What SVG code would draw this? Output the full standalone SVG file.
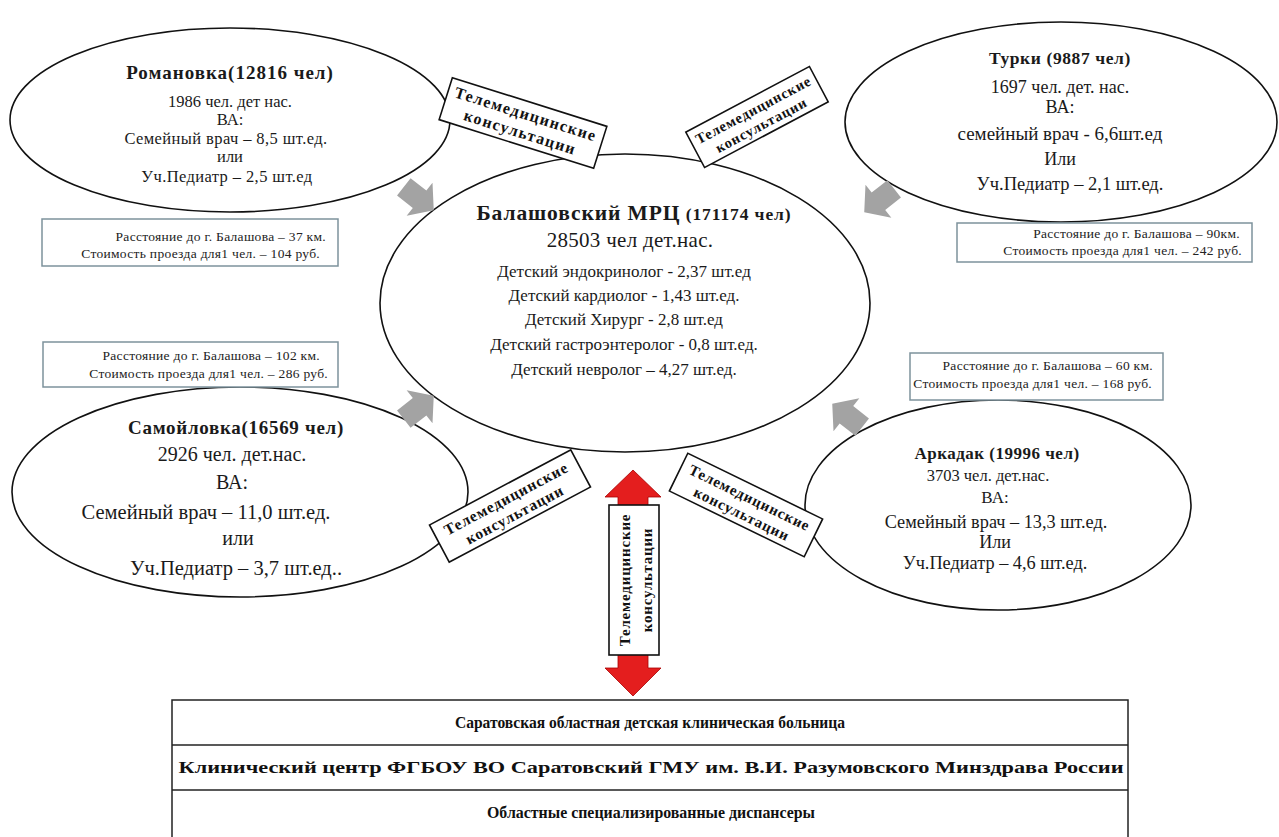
<svg xmlns="http://www.w3.org/2000/svg" width="1279" height="837" viewBox="0 0 1279 837">
<style>
.ell{fill:#fff;stroke:#111;stroke-width:1.6}
.t{font-family:"Liberation Serif","Times New Roman",serif;fill:#1a1a1a;text-anchor:middle}
.b{font-weight:bold}
.info{fill:#fff;stroke:#7d929c;stroke-width:1.5}
.it{font-family:"Liberation Serif","Times New Roman",serif;font-size:13.5px;letter-spacing:0.3px;fill:#222;text-anchor:end}
.lab{fill:#fff;stroke:#111;stroke-width:1.6}
.lt{font-family:"Liberation Serif","Times New Roman",serif;font-weight:bold;text-anchor:middle;fill:#111}
.garrow{fill:#a3a3a3}
.tb{fill:#fff;stroke:#222;stroke-width:1.5}
.tt{font-family:"Liberation Serif","Times New Roman",serif;font-weight:bold;font-size:16.5px;fill:#111;text-anchor:middle}
</style>
<defs>
<polygon id="ga" class="garrow" points="-18,-11 2,-11 2,-21 20,0 2,21 2,11 -18,11"/>
</defs>
<rect width="1279" height="837" fill="#fff"/>

<g id="romanovka">
<ellipse class="ell" cx="230" cy="120" rx="220" ry="92"/>
<text class="t b" x="230" y="79" font-size="19" letter-spacing="1">Романовка(12816 чел)</text>
<text class="t" x="230" y="107" font-size="16.5">1986 чел. дет нас.</text>
<text class="t" x="230" y="125" font-size="16.5">ВА:</text>
<text class="t" x="226" y="144" font-size="16.5" letter-spacing="0.4">Семейный врач – 8,5 шт.ед.</text>
<text class="t" x="230" y="162" font-size="16.5">или</text>
<text class="t" x="227" y="182" font-size="16.5" letter-spacing="0.4">Уч.Педиатр – 2,5 шт.ед</text>
</g>

<g id="turki">
<ellipse class="ell" cx="1061" cy="122" rx="216" ry="100"/>
<text class="t b" x="1060" y="64" font-size="17.5" letter-spacing="0.6">Турки (9887 чел)</text>
<text class="t" x="1060" y="93" font-size="18">1697 чел. дет. нас.</text>
<text class="t" x="1060" y="113" font-size="18">ВА:</text>
<text class="t" x="1060" y="140" font-size="19">семейный врач - 6,6шт.ед</text>
<text class="t" x="1060" y="165" font-size="18">Или</text>
<text class="t" x="1070" y="190" font-size="18.5">Уч.Педиатр – 2,1 шт.ед.</text>
</g>

<g id="samoylovka">
<ellipse class="ell" cx="240" cy="492" rx="228" ry="105"/>
<text class="t b" x="236" y="434" font-size="19" letter-spacing="0.7">Самойловка(16569 чел)</text>
<text class="t" x="232" y="461" font-size="20">2926 чел. дет.нас.</text>
<text class="t" x="232" y="489" font-size="20">ВА:</text>
<text class="t" x="206" y="519" font-size="20.5">Семейный врач – 11,0 шт.ед.</text>
<text class="t" x="238" y="545" font-size="20">или</text>
<text class="t" x="236" y="575" font-size="20.5">Уч.Педиатр – 3,7 шт.ед..</text>
</g>

<g id="arkadak">
<ellipse class="ell" cx="998" cy="505" rx="193" ry="105"/>
<text class="t b" x="997" y="459" font-size="17" letter-spacing="0.5">Аркадак (19996 чел)</text>
<text class="t" x="988" y="481" font-size="16.5">3703 чел. дет.нас.</text>
<text class="t" x="995" y="503" font-size="17">ВА:</text>
<text class="t" x="996" y="528" font-size="18.3">Семейный врач – 13,3 шт.ед.</text>
<text class="t" x="995" y="548" font-size="18">Или</text>
<text class="t" x="995" y="569" font-size="18.3">Уч.Педиатр – 4,6 шт.ед.</text>
</g>

<g id="balashov">
<ellipse class="ell" cx="625" cy="303" rx="245" ry="149"/>
<text class="t b" x="634" y="220" letter-spacing="0.9"><tspan font-size="21.5">Балашовский МРЦ</tspan><tspan font-size="17.5"> (171174 чел)</tspan></text>
<text class="t" x="630" y="247" font-size="21" letter-spacing="0.3">28503 чел  дет.нас.</text>
<text class="t" x="624" y="277" font-size="17">Детский эндокринолог - 2,37 шт.ед</text>
<text class="t" x="624" y="301" font-size="17">Детский кардиолог - 1,43 шт.ед.</text>
<text class="t" x="624" y="325" font-size="17">Детский Хирург -  2,8 шт.ед</text>
<text class="t" x="624" y="350" font-size="17">Детский гастроэнтеролог  - 0,8 шт.ед.</text>
<text class="t" x="624" y="375" font-size="17">Детский невролог – 4,27 шт.ед.</text>
</g>

<g id="connectors">
<use href="#ga" transform="translate(418,198) rotate(38)"/>
<use href="#ga" transform="translate(880,200) rotate(142)"/>
<use href="#ga" transform="translate(418,408) rotate(-38)"/>
<use href="#ga" transform="translate(848,416) rotate(-142)"/>
<polygon points="633,470 661,497 648,497 648,668 661,668 633,696 605,668 618,668 618,497 605,497" fill="#e41e1e" stroke="#a80000" stroke-width="0.8"/>
</g>

<g id="label-tl" transform="translate(523,123) rotate(17.5)">
<rect class="lab" x="-81" y="-22" width="162" height="44"/>
<text class="lt" x="0" y="-4" font-size="16" letter-spacing="1.3">Телемедицинские</text>
<text class="lt" x="0" y="15" font-size="16" letter-spacing="1.3">консультации</text>
</g>
<g id="label-tr" transform="translate(757,117) rotate(-28)">
<rect class="lab" x="-70" y="-20" width="140" height="40"/>
<text class="lt" x="0" y="-3" font-size="14.5" letter-spacing="0.8">Телемедицинские</text>
<text class="lt" x="0" y="14" font-size="14.5" letter-spacing="0.8">консультации</text>
</g>
<g id="label-bl" transform="translate(510,506) rotate(-28)">
<rect class="lab" x="-80" y="-21" width="160" height="42"/>
<text class="lt" x="0" y="-3" font-size="15.5" letter-spacing="0.9">Телемедицинские</text>
<text class="lt" x="0" y="15" font-size="15.5" letter-spacing="0.9">консультации</text>
</g>
<g id="label-br" transform="translate(746,505) rotate(26)">
<rect class="lab" x="-75" y="-21" width="150" height="42"/>
<text class="lt" x="0" y="-3" font-size="15" letter-spacing="0.8">Телемедицинские</text>
<text class="lt" x="0" y="15" font-size="15" letter-spacing="0.8">консультации</text>
</g>
<g id="label-v" transform="translate(634,580) rotate(-90)">
<rect class="lab" x="-75" y="-25" width="150" height="50"/>
<text class="lt" x="0" y="-4" font-size="15" letter-spacing="0.8">Телемедицинские</text>
<text class="lt" x="0" y="18" font-size="15" letter-spacing="0.8">консультации</text>
</g>

<g id="info-romanovka">
<rect class="info" x="42" y="219" width="296" height="47"/>
<text class="it" x="326" y="241">Расстояние до г. Балашова – 37 км.</text>
<text class="it" x="320" y="258">Стоимость проезда для1 чел. – 104 руб.</text>
</g>
<g id="info-turki">
<rect class="info" x="957" y="223" width="295" height="39"/>
<text class="it" x="1240" y="238">Расстояние до г. Балашова – 90км.</text>
<text class="it" x="1242" y="255">Стоимость проезда для1 чел. – 242 руб.</text>
</g>
<g id="info-samoylovka">
<rect class="info" x="43" y="342" width="295" height="45"/>
<text class="it" x="320" y="360">Расстояние до г. Балашова – 102 км.</text>
<text class="it" x="328" y="378">Стоимость проезда для1 чел. – 286 руб.</text>
</g>
<g id="info-arkadak">
<rect class="info" x="910" y="353" width="253" height="47"/>
<text class="it" x="1153" y="370" font-size="12" letter-spacing="0.1">Расстояние до г. Балашова – 60 км.</text>
<text class="it" x="1152" y="388" font-size="12" letter-spacing="0.1">Стоимость проезда для1 чел. – 168 руб.</text>
</g>

<g id="table">
<rect class="tb" x="172" y="700" width="956" height="140"/>
<line x1="172" y1="745" x2="1128" y2="745" stroke="#222" stroke-width="1.5"/>
<line x1="172" y1="790" x2="1128" y2="790" stroke="#222" stroke-width="1.5"/>
<text class="tt" x="650" y="728" textLength="390" lengthAdjust="spacingAndGlyphs">Саратовская областная детская клиническая больница</text>
<text class="tt" x="651" y="773" textLength="945" lengthAdjust="spacingAndGlyphs">Клинический центр ФГБОУ ВО Саратовский ГМУ им. В.И. Разумовского Минздрава России</text>
<text class="tt" x="651" y="818" textLength="328" lengthAdjust="spacingAndGlyphs">Областные специализированные диспансеры</text>
</g>
</svg>
